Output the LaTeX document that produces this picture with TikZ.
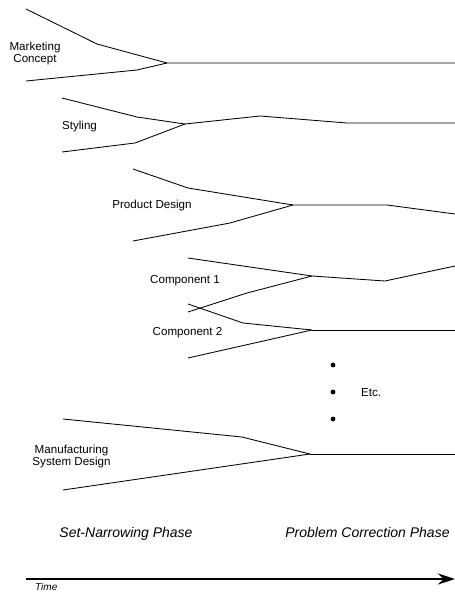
\documentclass[tikz,border=0pt]{standalone}
\usepackage{fontspec}
\setmainfont{Liberation Sans}
\usetikzlibrary{arrows.meta}
\begin{document}
\begin{tikzpicture}[x=1pt,y=-1pt,
  lbl/.style={font=\fontsize{11.6}{11.5}\selectfont, align=center, inner sep=0pt},
  phase/.style={font=\fontsize{14}{16}\selectfont\itshape, inner sep=0pt},
  fan/.style={line width=0.85pt, line join=round},
  dot/.style={circle, fill, inner sep=0pt, minimum size=4.8pt},
  timearrow/.style={line width=1.6pt, -{Stealth[length=17pt,width=11pt]}}]
\useasboundingbox (0,0) rectangle (455,592);

% Marketing Concept
\coordinate (m) at (167,63);
\coordinate (mE) at (455,63);
\draw[fan] (26,9) -- (97,44) -- (m) -- (mE);
\draw[fan] (26,81) -- (137,70) -- (m);
\node[lbl, anchor=north] (mlab) at (35,42) {Marketing\\Concept};

% Styling
\coordinate (s) at (185,124);
\coordinate (sE) at (455,123);
\draw[fan] (62,98) -- (137,117) -- (s);
\draw[fan] (62,152) -- (135,143) -- (s);
\draw[fan] (s) -- (260,116) -- (347,123) -- (sE);
\node[lbl, anchor=base] (slab) at (79.5,129) {Styling};

% Product Design
\coordinate (p) at (293,205);
\coordinate (pE) at (455,214);
\draw[fan] (133,169) -- (188,188) -- (p);
\draw[fan] (133,241) -- (230,223) -- (p);
\draw[fan] (p) -- (387,205) -- (pE);
\node[lbl, anchor=base] (plab) at (152,208) {Product Design};

% Component 1
\coordinate (c1) at (312,276);
\coordinate (c1E) at (455,266);
\draw[fan] (188,258) -- (c1);
\draw[fan] (188,312) -- (247,293) -- (c1);
\draw[fan] (c1) -- (385,281) -- (c1E);
\node[lbl, anchor=base] (c1lab) at (185,283) {Component 1};

% Component 2
\coordinate (c2) at (312,330);
\coordinate (c2E) at (455,330);
\draw[fan] (188,304) -- (243,323) -- (c2);
\draw[fan] (188,358) -- (c2);
\draw[fan] (c2) -- (c2E);
\node[lbl, anchor=base] (c2lab) at (187.5,335) {Component 2};

% Etc.
\node[dot] (d1) at (333,365) {};
\node[dot] (d2) at (333,392) {};
\node[dot] (d3) at (333,419) {};
\node[lbl, anchor=base west] (etc) at (361,396) {Etc.};

% Manufacturing System Design
\coordinate (f) at (310,454);
\coordinate (fE) at (455,454);
\draw[fan] (63,419) -- (242,437) -- (f);
\draw[fan] (63,490) -- (f);
\draw[fan] (f) -- (fE);
\node[lbl, anchor=north] (flab) at (71.5,445) {Manufacturing\\System Design};

% Phases
\node[phase, anchor=base] (ph1) at (126,537) {Set-Narrowing Phase};
\node[phase, anchor=base] (ph2) at (367.5,537) {Problem Correction Phase};

% Time axis
\coordinate (tS) at (26,579);
\coordinate (tE) at (455,579);
\draw[timearrow] (tS) -- (tE);
\node[font=\fontsize{10}{12}\selectfont\itshape, inner sep=0pt, anchor=base west] (time) at (35,590.5) {Time};
\end{tikzpicture}
\end{document}
